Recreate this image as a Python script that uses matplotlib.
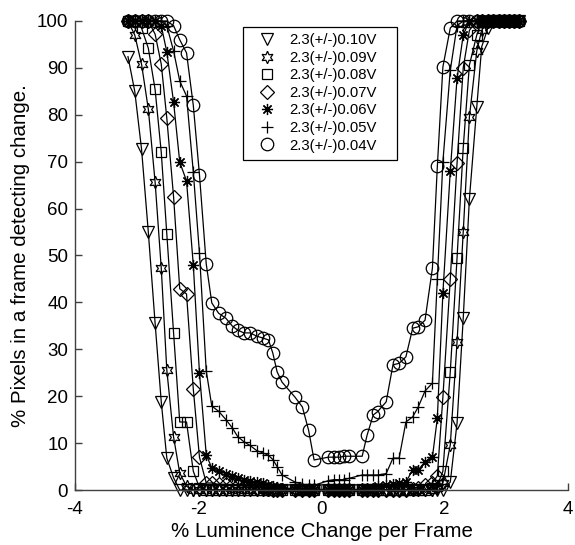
import matplotlib
matplotlib.use("Agg")
import matplotlib.pyplot as plt
from matplotlib.patches import Rectangle

# luminance change per frame (%), shared by all runs
lum = [-3.14, -3.03, -2.92, -2.81, -2.70, -2.60, -2.51, -2.40, -2.30,
       -2.19, -2.08, -1.98, -1.87, -1.78, -1.67, -1.55, -1.45, -1.36, -1.26,
       -1.16, -1.05, -0.95, -0.86, -0.79, -0.72, -0.64, -0.43, -0.31, -0.21,
       -0.12, 0.11, 0.20, 0.29, 0.37, 0.45, 0.66, 0.74, 0.84, 0.91,
       1.05, 1.16, 1.26, 1.37, 1.48, 1.57, 1.68, 1.80, 1.88, 1.97,
       2.09, 2.20, 2.30, 2.40, 2.52, 2.60, 2.70, 2.79, 2.88, 2.96,
       3.05, 3.13, 3.21]

# % pixels detecting change, one list per threshold
p010 = [92.4, 85.0, 72.7, 55.0, 35.6, 18.8, 6.8, 2.6, 0,
        0, 0, 0, 0, 0, 0, 0, 0, 0, 0,
        0, 0, 0, 0, 0, 0, 0, 0, 0, 0,
        0, 0, 0, 0, 0, 0, 0, 0, 0, 0,
        0, 0, 0, 0, 0, 0, 0, 0, 0, 0,
        1.7, 14.3, 36.6, 62.0, 81.7, 94.5, 98.5, 100, 100, 100,
        100, 100, 100]
p009 = [100, 97.0, 90.8, 81.2, 65.7, 47.3, 25.6, 11.3, 3.6,
        0.8, 0, 0, 0, 0, 0, 0, 0, 0, 0,
        0, 0, 0, 0, 0, 0, 0, 0, 0, 0,
        0, 0, 0, 0, 0, 0, 0, 0, 0, 0,
        0, 0, 0, 0, 0, 0, 0, 0, 0.5, 1.5,
        9.6, 31.6, 55.0, 79.5, 93.6, 98.0, 100, 100, 100, 100,
        100, 100, 100]
p008 = [100, 100, 98.5, 94.2, 85.4, 72.0, 54.6, 33.5, 14.5,
        14.5, 4.0, 0.5, 0, 0, 0, 0, 0, 0, 0,
        0, 0, 0, 0, 0, 0, 0, 0, 0, 0,
        0, 0, 0, 0, 0, 0, 0, 0, 0, 0,
        0, 0, 0, 0, 0, 0, 0, 0.5, 1.0, 4.0,
        25.2, 49.5, 73.0, 90.6, 97.0, 100, 100, 100, 100, 100,
        100, 100, 100]
p007 = [100, 100, 100, 100, 97.2, 90.8, 79.3, 62.5, 42.9,
        41.8, 21.5, 7.0, 1.5, 1.5, 1.2, 1.2, 1.0, 1.0, 0.8,
        0.8, 0.5, 0.5, 0.3, 0, 0, 0, 0, 0, 0,
        0, 0, 0, 0, 0, 0, 0, 0, 0, 0,
        0, 0, 0, 0, 0.3, 0.5, 1.0, 1.5, 3.0, 19.8,
        45.0, 69.7, 90.0, 98.0, 100, 100, 100, 100, 100, 100,
        100, 100, 100]
p006 = [100, 100, 100, 100, 100, 99.0, 93.4, 82.7, 69.9,
        65.9, 48.0, 25.0, 7.5, 4.7, 4.0, 3.5, 3.0, 2.6, 2.2,
        2.0, 1.7, 1.4, 1.1, 0.9, 0.7, 0.5, 0.2, 0, 0,
        0, 0, 0, 0, 0, 0, 0, 0.3, 0.5, 0.8,
        1.0, 1.2, 1.4, 1.7, 4.3, 4.3, 6.0, 7.0, 15.3, 42.0,
        68.0, 87.8, 97.0, 100, 100, 100, 100, 100, 100, 100,
        100, 100, 100]
p005 = [100, 100, 100, 100, 100, 100, 99.0, 93.6, 87.2,
        84.0, 67.8, 50.5, 25.4, 17.9, 16.8, 15.0, 13.3, 11.4, 10.3,
        9.5, 8.4, 7.9, 7.4, 6.5, 5.0, 3.2, 1.7, 1.2, 1.0,
        1.0, 2.0, 2.2, 2.2, 2.2, 2.5, 3.2, 3.2, 3.2, 3.2,
        3.5, 6.8, 6.8, 14.5, 15.6, 17.7, 21.1, 22.8, 45.0, 70.0,
        89.5, 99.0, 100, 100, 100, 100, 100, 100, 100, 100,
        100, 100, 100]
p004 = [100, 100, 100, 100, 100, 100, 100, 99.0, 96.0,
        93.2, 82.0, 67.2, 48.2, 39.9, 37.7, 36.6, 35.0, 34.1, 33.5,
        33.5, 32.8, 32.4, 32.0, 29.2, 25.2, 23.0, 19.8, 17.7, 12.8,
        6.4, 7.0, 7.0, 7.0, 7.2, 7.2, 7.2, 11.7, 16.0, 16.7,
        18.8, 26.7, 27.0, 28.4, 34.5, 34.8, 36.2, 47.3, 69.0, 90.2,
        98.5, 100, 100, 100, 100, 100, 100, 100, 100, 100,
        100, 100, 100]

series = [p010, p009, p008, p007, p006, p005, p004]
labels = ["2.3(+/-)0.10V", "2.3(+/-)0.09V", "2.3(+/-)0.08V",
          "2.3(+/-)0.07V", "2.3(+/-)0.06V", "2.3(+/-)0.05V",
          "2.3(+/-)0.04V"]
markers = ["v", (6, 1, 0), "s", "D", (8, 2, 0), "+", "o"]
msizes = [9, 9, 7, 7, 8, 9, 9]


def main():
    plt.rcParams["font.family"] = ["Liberation Sans", "DejaVu Sans"]
    plt.rcParams["axes.unicode_minus"] = False

    fig = plt.figure(figsize=(5.75, 5.45), dpi=100)
    ax = fig.add_axes([0.1304, 0.1009, 0.8574, 0.8606])

    for vals, lab, mk, ms in zip(series, labels, markers, msizes):
        ax.plot(lum, vals, color="black", linewidth=0.9, marker=mk,
                markersize=ms, markerfacecolor="none", markeredgecolor="black",
                markeredgewidth=0.9, label=lab, clip_on=False)

    ax.set_xlim(-4, 4)
    ax.set_ylim(0, 100)
    ax.set_xticks([-4, -2, 0, 2, 4])
    ax.set_yticks(range(0, 101, 10))
    for side in ("top", "right"):
        ax.spines[side].set_visible(False)
    for side in ("left", "bottom"):
        ax.spines[side].set_color("#404040")
        ax.spines[side].set_linewidth(1.0)
    ax.tick_params(direction="in", length=5, width=1.0, color="#404040",
                   labelsize=13.5)
    ax.tick_params(axis="x", pad=8)
    ax.tick_params(axis="y", pad=5)

    ax.set_xlabel("% Luminence Change per Frame", fontsize=14.8, labelpad=3)
    ax.set_ylabel("% Pixels in a frame detecting change.", fontsize=14.8,
                  labelpad=5)

    # legend box drawn separately so the padding matches the original
    ax.add_patch(Rectangle((0.341, 0.7036), 0.312, 0.2834,
                           transform=ax.transAxes, facecolor="white",
                           edgecolor="black", linewidth=0.9, zorder=4))
    leg = ax.legend(loc="upper left", bbox_to_anchor=(0.353, 0.974),
                    fontsize=10.7, frameon=False, borderaxespad=0,
                    borderpad=0, handlelength=2.4, handletextpad=0.34,
                    labelspacing=0.24)
    leg.set_zorder(5)
    for h in leg.legend_handles:
        h.set_linestyle("none")

    fig.savefig("out.png", dpi=100)
    print("Wrote out.png")


if __name__ == "__main__":
    main()
